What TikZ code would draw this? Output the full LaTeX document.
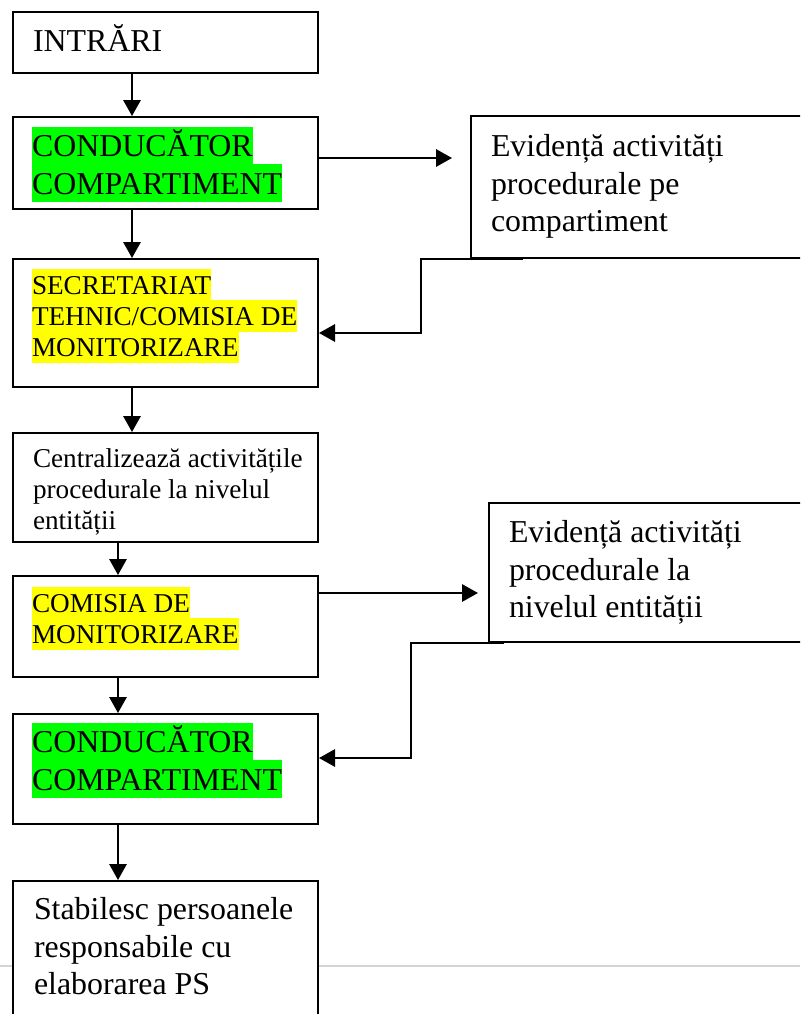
\documentclass[tikz,border=0pt]{standalone}
\usepackage{fontspec}
\setmainfont{Liberation Serif}
\usetikzlibrary{arrows.meta,calc}
\definecolor{hlgreen}{HTML}{00FF00}
\definecolor{hlyellow}{HTML}{FFFF00}
\definecolor{pagegray}{HTML}{D4D4D4}
\newcommand{\hstrut}{\rule[-0.2\baselineskip]{0pt}{\baselineskip}}
\newcommand{\hlt}[2]{{\setlength{\fboxsep}{0pt}\colorbox{#1}{\hstrut#2}}}
\newcommand{\pl}[1]{\hstrut#1}
\begin{document}
\begin{tikzpicture}[x=0.75pt,y=-0.75pt,
  box/.style={draw=black,line width=1.5pt,fill=white,rectangle,inner sep=0pt,anchor=north west},
  big/.style={font=\fontsize{23.9pt}{28pt}\selectfont},
  small/.style={font=\fontsize{20.4pt}{23.5pt}\selectfont},
  txt/.style={anchor=north west,inner sep=0pt,outer sep=0pt,align=left},
  arr/.style={line width=1.5pt,-{Triangle[length=12pt,width=13pt]}}]
\useasboundingbox (0,0) rectangle (800,1014);
\clip (0,0) rectangle (800,1014);
\fill[white] (0,0) rectangle (800,1014);
% page separator
\draw[pagegray,line width=1.2pt] (0,966) -- (800,966);
% boxes
\node[box,minimum width=305*0.75pt,minimum height=61*0.75pt] (b1) at (12,11) {};
\node[box,minimum width=305*0.75pt,minimum height=92*0.75pt] (b2) at (12,116) {};
\node[box,minimum width=360*0.75pt,minimum height=142*0.75pt] (b3) at (470,115) {};
\node[box,minimum width=305*0.75pt,minimum height=128*0.75pt] (b4) at (12,258) {};
\node[box,minimum width=305*0.75pt,minimum height=109*0.75pt] (b5) at (12,432) {};
\node[box,minimum width=342*0.75pt,minimum height=139*0.75pt] (b6) at (488,502) {};
\node[box,minimum width=305*0.75pt,minimum height=101*0.75pt] (b7) at (12,575) {};
\node[box,minimum width=305*0.75pt,minimum height=110*0.75pt] (b8) at (12,713) {};
\node[box,minimum width=305*0.75pt,minimum height=160*0.75pt] (b9) at (12,880) {};
% texts
\node[txt,big] (t1) at (33,22.1) {\pl{INTRĂRI}};
\node[txt,big] (t2) at (32,127.1) {\hlt{hlgreen}{CONDUCĂTOR}\\\hlt{hlgreen}{COMPARTIMENT}};
\node[txt,big] (t3) at (491,127.1) {\pl{Evidență activități}\\\pl{procedurale pe}\\\pl{compartiment}};
\node[txt,small] (t4) at (32,269) {\hlt{hlyellow}{SECRETARIAT}\\\hlt{hlyellow}{TEHNIC/COMISIA DE}\\\hlt{hlyellow}{MONITORIZARE}};
\node[txt,small] (t5) at (33,442) {\pl{Centralizează activitățile}\\\pl{procedurale la nivelul}\\\pl{entității}};
\node[txt,big] (t6) at (509,513.1) {\pl{Evidență activități}\\\pl{procedurale la}\\\pl{nivelul entității}};
\node[txt,small] (t7) at (32,587) {\hlt{hlyellow}{COMISIA DE}\\\hlt{hlyellow}{MONITORIZARE}};
\node[txt,big] (t8) at (32,723.1) {\hlt{hlgreen}{CONDUCĂTOR}\\\hlt{hlgreen}{COMPARTIMENT}};
\node[txt,big] (t9) at (34,890.1) {\pl{Stabilesc persoanele}\\\pl{responsabile cu}\\\pl{elaborarea PS}};
% vertical arrows
\draw[arr] ($(b1.south west)+(120,0)$) -- ($(b2.north west)+(120,0)$);
\draw[arr] ($(b2.south west)+(120,0)$) -- ($(b4.north west)+(120,0)$);
\draw[arr] ($(b4.south west)+(120,0)$) -- ($(b5.north west)+(120,0)$);
\draw[arr] ($(b5.south west)+(106,0)$) -- ($(b7.north west)+(106,0)$);
\draw[arr] ($(b7.south west)+(106,0)$) -- ($(b8.north west)+(106,0)$);
\draw[arr] ($(b8.south west)+(106,0)$) -- ($(b9.north west)+(106,0)$);
% horizontal arrows
\coordinate (e1) at (452,158);
\draw[arr] (b2.east |- e1) -- (e1);
\coordinate (e2) at (478,593);
\draw[arr] (b7.east |- e2) -- (e2);
% feedback arrows
\coordinate (f1) at (421,333);
\draw[arr] ($(b3.south west)+(53,0)$) -| (f1) -- (b4.east |- f1);
\coordinate (f2) at (411,758);
\draw[arr] ($(b6.south west)+(16,0)$) -| (f2) -- (b8.east |- f2);
\end{tikzpicture}
\end{document}
